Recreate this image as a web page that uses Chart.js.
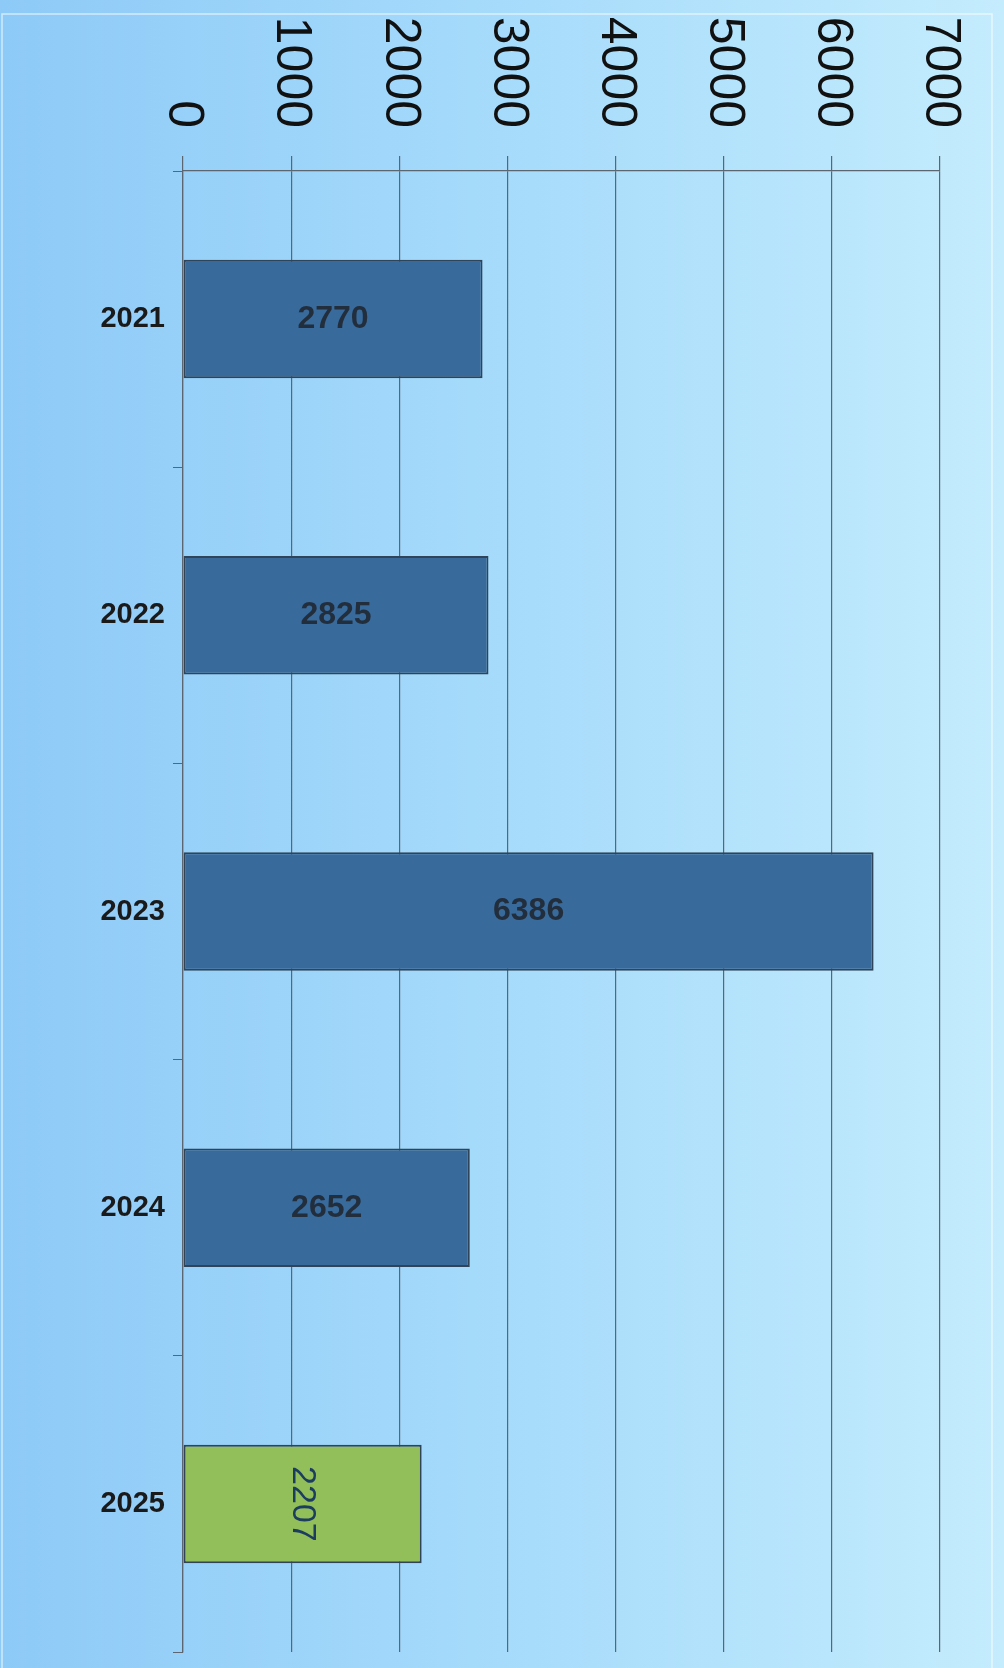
<!DOCTYPE html>
<html>
<head>
<meta charset="utf-8">
<script src="https://cdn.jsdelivr.net/npm/chart.js@4/dist/chart.umd.min.js"></script>
<style>
  body { margin: 0; background: #a8dcfb; }
  canvas { display: block; }
</style>
</head>
<body>
<canvas id="barras" width="1004" height="1668"></canvas>
<script>
const years = ["2021", "2022", "2023", "2024", "2025"];
const totals = [2770, 2825, 6386, 2652, 2207];
const axisMax = 7000;
const axisStep = 1000;

const blue = "#386a9c";
const green = "#92bf5a";

// fundo degradê + moldura clara
const fundo = {
  id: "fundo",
  beforeDraw(chart) {
    const ctx = chart.ctx;
    const g = ctx.createLinearGradient(0, 0, chart.width, 0);
    g.addColorStop(0, "#8ecaf7");
    g.addColorStop(0.5, "#a6dbfb");
    g.addColorStop(1, "#c4ecfd");
    ctx.save();
    ctx.fillStyle = g;
    ctx.fillRect(0, 0, chart.width, chart.height);
    ctx.strokeStyle = "rgba(255,255,255,0.6)";
    ctx.lineWidth = 1.5;
    ctx.strokeRect(2, 14, 990, chart.height);
    ctx.restore();
  },
};

// rótulos do eixo x, girados 90° no sentido horário
const rotulosX = {
  id: "rotulosX",
  afterDraw(chart) {
    const scale = chart.scales.x;
    const ctx = chart.ctx;
    ctx.save();
    ctx.fillStyle = "#111";
    ctx.font = "50px 'Liberation Sans', Arial, sans-serif";
    ctx.textAlign = "right";
    ctx.textBaseline = "middle";
    scale.ticks.forEach((t, i) => {
      const x = scale.getPixelForTick(i);
      ctx.save();
      ctx.translate(x, 128);
      ctx.rotate(Math.PI / 2);
      ctx.fillText(String(t.value), 0, 0);
      ctx.restore();
    });
    ctx.restore();
  },
};

// valores dentro das barras
const valores = {
  id: "valores",
  afterDatasetsDraw(chart) {
    const ctx = chart.ctx;
    const meta = chart.getDatasetMeta(0);
    ctx.save();
    ctx.textAlign = "center";
    ctx.textBaseline = "middle";
    meta.data.forEach((bar, i) => {
      const cx = (bar.x + bar.base) / 2;
      const cy = bar.y;
      const txt = String(totals[i]);
      if (i === totals.length - 1) {
        ctx.save();
        ctx.translate(cx, cy);
        ctx.rotate(Math.PI / 2);
        ctx.fillStyle = "#1c3d60";
        ctx.font = "34px 'Liberation Sans', Arial, sans-serif";
        ctx.fillText(txt, 0, 0);
        ctx.restore();
      } else {
        ctx.fillStyle = "#222e3c";
        ctx.font = "bold 32px 'Liberation Sans', Arial, sans-serif";
        ctx.fillText(txt, cx, cy);
      }
    });
    ctx.restore();
  },
};

let bar = new Chart(document.getElementById("barras"), {
  type: "bar",
  data: {
    labels: years,
    datasets: [
      {
        data: totals,
        backgroundColor: (c) => (c.dataIndex === totals.length - 1 ? green : blue),
        borderColor: "#2f4458",
        borderWidth: 2,
        borderSkipped: false,
        categoryPercentage: 1,
        barPercentage: 0.4,
      },
    ],
  },
  options: {
    responsive: false,
    animation: false,
    indexAxis: "y",
    layout: { padding: { top: 0, right: 64, bottom: 16, left: 0 } },
    plugins: {
      legend: { display: false },
      tooltip: { enabled: false },
    },
    scales: {
      x: {
        position: "top",
        min: 0,
        max: axisMax,
        ticks: { stepSize: axisStep, display: false },
        grid: { color: "#5c6670", lineWidth: 1.2, tickLength: 15 },
        border: { color: "#5c6670", width: 1.2 },
        afterFit(scale) {
          scale.height = 171;
          scale.paddingLeft = 0;
          scale.paddingRight = 0;
        },
      },
      y: {
        grid: { drawOnChartArea: false, color: "#5c6670", tickLength: 10 },
        border: { color: "#5c6670", width: 1.2 },
        ticks: {
          color: "#1a1a1a",
          padding: 8,
          font: { family: "'Liberation Sans', Arial, sans-serif", size: 29, weight: "bold" },
        },
        afterFit(scale) {
          scale.width = 183;
          scale.paddingTop = 0;
          scale.paddingBottom = 0;
        },
      },
    },
  },
  plugins: [fundo, rotulosX, valores],
});
</script>
</body>
</html>
